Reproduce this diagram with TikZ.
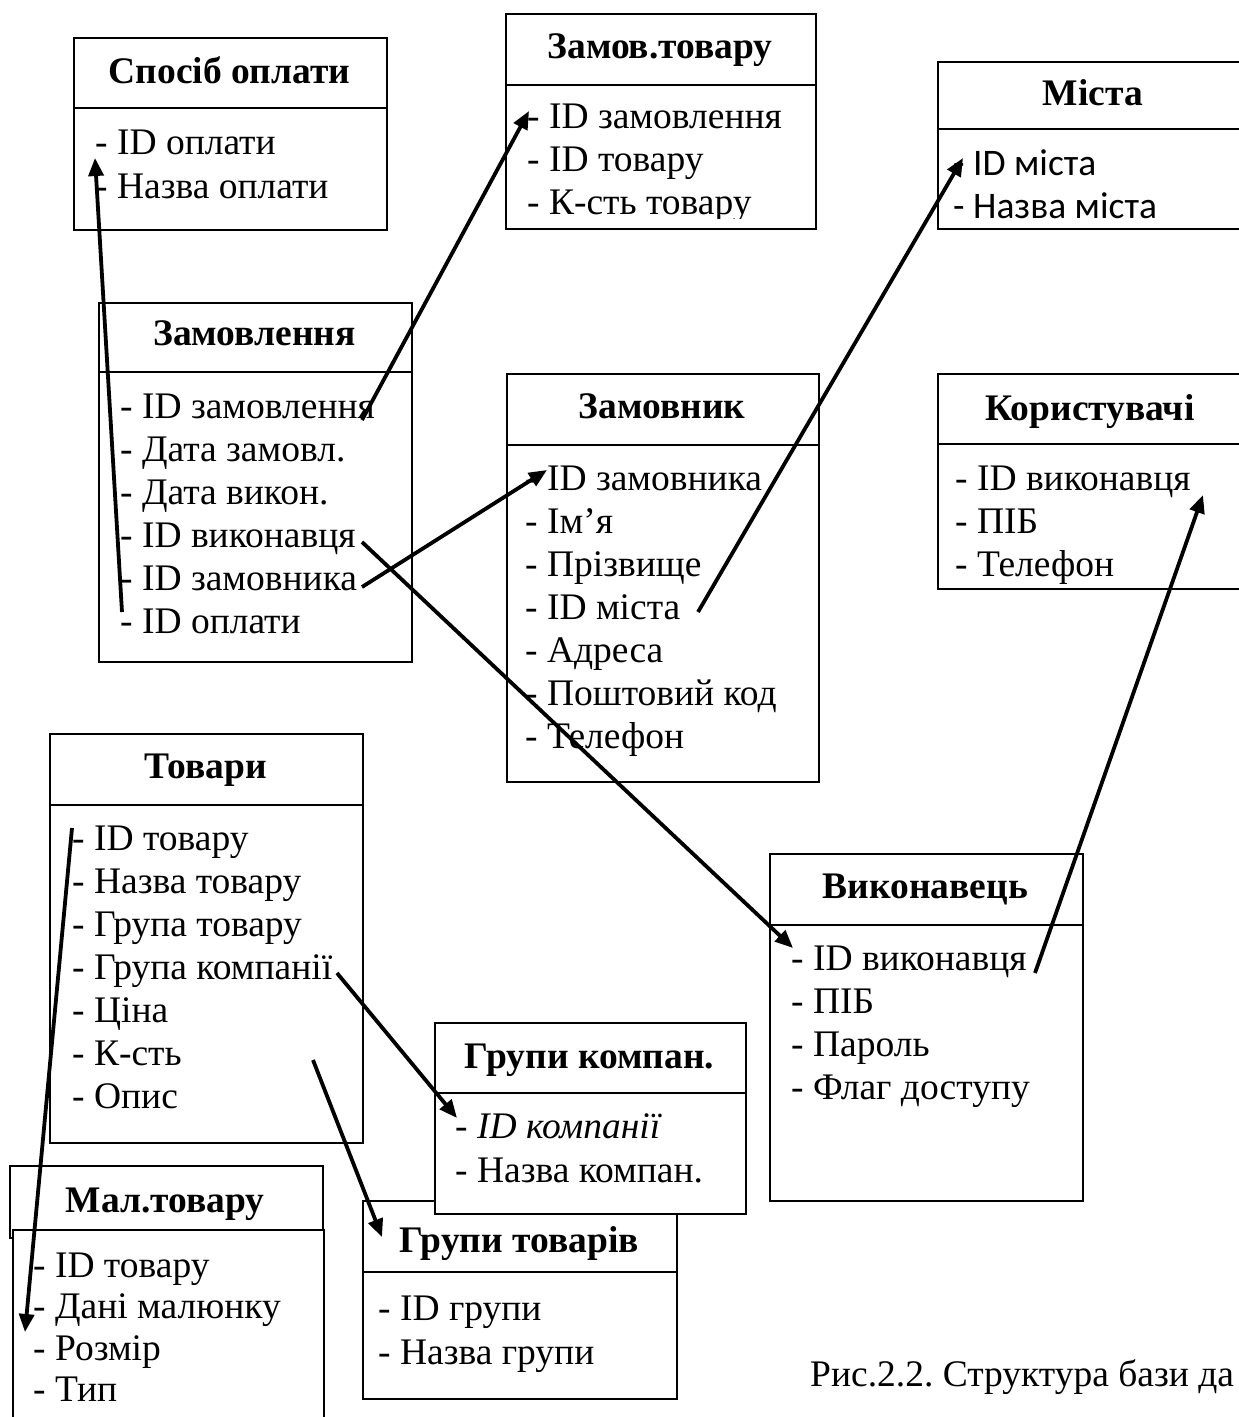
\documentclass[tikz,border=0pt]{standalone}
\usepackage{fontspec}
\setmainfont{Liberation Serif}
\newfontfamily\calfont{Carlito}
\usetikzlibrary{arrows.meta}
\frenchspacing
\newcommand\erbox[6]{%
  \node[box, minimum width={(#4)-(#2)}, minimum height={(#6)-(#3)}] (#1) at (#2,#3) {};
  \draw[line width=1.6pt] (#2,#5) -- (#4,#5);
}
\begin{document}
\begin{tikzpicture}[x=1pt,y=-1pt,
  box/.style={draw, line width=1.6pt, fill=white, rectangle, inner sep=0pt, anchor=north west},
  ttl/.style={anchor=base, inner sep=0pt, font=\fontsize{37.5}{43}\selectfont\bfseries},
  itm/.style={anchor=base west, inner sep=0pt, font=\fontsize{37.5}{43}\selectfont},
  citm/.style={anchor=base west, inner sep=0pt, font=\fontsize{37.5}{43}\selectfont\calfont},
  lnk/.style={line width=3.8pt, -{Triangle[length=18pt,width=15pt]}}]
\useasboundingbox (0,0) rectangle (1239,1417);
\fill[white] (0,0) rectangle (1239,1417);

% Спосіб оплати
\erbox{so}{73}{37}{386}{108}{229}
\node[ttl] (so-t) at (229.5,83) {Спосіб оплати};
\node[itm] (so1) at (95,154) {- ID оплати};
\node[itm] (so2) at (95,198) {- Назва оплати};

% Замов.товару
\erbox{zt}{505}{13}{815}{85}{228}
\node[ttl] (zt-t) at (660,58) {Замов.товару};
\begin{scope}
\clip (505,86) rectangle (815,218);
\node[itm] (zt1) at (527,128) {- ID замовлення};
\node[itm] (zt2) at (527,171) {- ID товару};
\node[itm] (zt3) at (527,214) {- К-сть товару};
\end{scope}

% Міста
\erbox{mi}{937}{61}{1250}{129}{228}
\node[ttl] (mi-t) at (1093,105) {Міста};
\begin{scope}
\clip (937,130) rectangle (1250,221);
\node[citm] (mi1) at (953,175) {- ID міста};
\node[citm] (mi2) at (953,218) {- Назва міста};
\end{scope}

% Замовлення
\erbox{zv}{98}{302}{411}{372}{661}
\node[ttl] (zv-t) at (254.5,345) {Замовлення};
\node[itm] (zv1) at (120,418) {- ID замовлення};
\node[itm] (zv2) at (120,461) {- Дата замовл.};
\node[itm] (zv3) at (120,504) {- Дата викон.};
\node[itm] (zv4) at (120,547) {- ID виконавця};
\node[itm] (zv5) at (120,590) {- ID замовника};
\node[itm] (zv6) at (120,633) {- ID оплати};

% Замовник
\erbox{zn}{506}{373}{818}{445}{781}
\node[ttl] (zn-t) at (662,418) {Замовник};
\node[itm] (zn1) at (525,490) {- ID замовника};
\node[itm] (zn2) at (525,533) {- Ім’я};
\node[itm] (zn3) at (525,576) {- Прізвище};
\node[itm] (zn4) at (525,619) {- ID міста};
\node[itm] (zn5) at (525,662) {- Адреса};
\node[itm] (zn6) at (525,705) {- Поштовий код};
\node[itm] (zn7) at (525,748) {- Телефон};

% Користувачі
\erbox{ku}{937}{373}{1243}{444}{588}
\node[ttl] (ku-t) at (1090,420) {Користувачі};
\node[itm] (ku1) at (955,490) {- ID виконавця};
\node[itm] (ku2) at (955,533) {- ПІБ};
\node[itm] (ku3) at (955,576) {- Телефон};

% Товари
\erbox{tv}{49}{733}{362}{805}{1142}
\node[ttl] (tv-t) at (205.5,778) {Товари};
\node[itm] (tv1) at (72,850) {- ID товару};
\node[itm] (tv2) at (72,893) {- Назва товару};
\node[itm] (tv3) at (72,936) {- Група товару};
\node[itm] (tv4) at (72,979) {- Група компанії};
\node[itm] (tv5) at (72,1022) {- Ціна};
\node[itm] (tv6) at (72,1065) {- К-сть};
\node[itm] (tv7) at (72,1108) {- Опис};

% Виконавець
\erbox{vk}{769}{853}{1082}{925}{1200}
\node[ttl] (vk-t) at (925.5,898) {Виконавець};
\node[itm] (vk1) at (791,970) {- ID виконавця};
\node[itm] (vk2) at (791,1013) {- ПІБ};
\node[itm] (vk3) at (791,1056) {- Пароль};
\node[itm] (vk4) at (791,1099) {- Флаг доступу};

% Групи товарів
\erbox{gt}{362}{1200}{676}{1272}{1398}
\node[ttl] (gt-t) at (519,1252) {Групи товарів};
\node[itm] (gt1) at (378,1320) {- ID групи};
\node[itm] (gt2) at (378,1364) {- Назва групи};

% Групи компан.
\erbox{gk}{434}{1022}{745}{1093}{1213}
\node[ttl] (gk-t) at (589.5,1068) {Групи компан.};
\node[itm] (gk1) at (455,1138) {- \textit{ID компанії}};
\node[itm] (gk2) at (455,1182) {- Назва компан.};

% Мал.товару
\node[box, minimum width=313, minimum height=72] (mt-h) at (9,1165) {};
\node[box, minimum width=311, minimum height=215] (mt) at (12,1229) {};
\node[ttl] (mt-t) at (165,1212) {Мал.товару};
\node[itm] (mt1) at (33,1277) {- ID товару};
\node[itm] (mt2) at (33,1318) {- Дані малюнку};
\node[itm] (mt3) at (33,1360) {- Розмір};
\node[itm] (mt4) at (33,1401) {- Тип};

% caption (cut at the page edge in the reference)
\node[itm] (cap) at (810,1386) {Рис.2.2. Структура бази да};

% connectors
\draw[lnk] ([shift={(2,-21)}]zv6.base west) -- ([shift={(0,4)}]so1.base west);
\draw[lnk] ([shift={(242,2)}]zv1.base west) -- ([shift={(2,-17)}]zt1.base west);
\draw[lnk] ([shift={(242,-3)}]zv5.base west) -- ([shift={(22,-20)}]zn1.base west);
\draw[lnk] ([shift={(242,-5)}]zv4.base west) -- ([shift={(2,-22)}]vk1.base west);
\draw[lnk] ([shift={(173,-7)}]zn4.base west) -- ([shift={(10,-17)}]mi1.base west);
\draw[lnk] ([shift={(244,3)}]vk1.base west) -- ([shift={(248,5)}]ku1.base west);
\draw[lnk] ([shift={(0,-22)}]tv1.base west) -- ([shift={(-8,-28)}]mt3.base west);
\draw[lnk] ([shift={(265,-6)}]tv4.base west) -- ([shift={(2,-20)}]gk1.base west);
\draw[lnk] ([shift={(241,-5)}]tv6.base west) -- ([shift={(20,37)}]gt.north west);
\end{tikzpicture}
\end{document}
